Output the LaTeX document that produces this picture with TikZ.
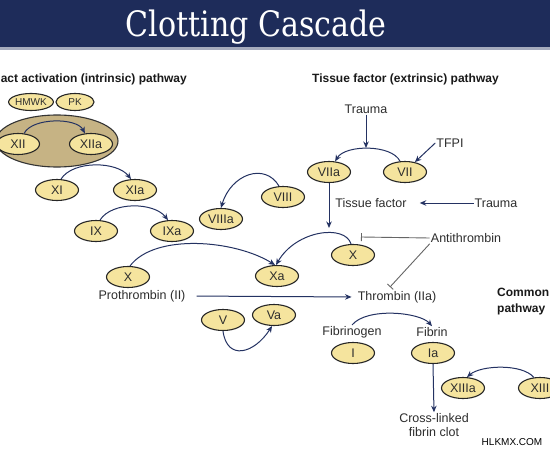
\documentclass[tikz,border=0pt]{standalone}
\usepackage{fontspec}
\setmainfont{Liberation Sans}
\newfontfamily\titlefont{DejaVu Serif}
\usetikzlibrary{shapes.geometric,arrows.meta}
\definecolor{navy}{RGB}{30,44,90}
\definecolor{arrowc}{RGB}{36,50,98}
\definecolor{fac}{RGB}{245,228,158}
\definecolor{bigfill}{RGB}{198,179,132}
\definecolor{txt}{RGB}{45,45,45}
\tikzset{
  fact/.style={ellipse, draw=black!85, line width=1.1pt, fill=fac, minimum width=43pt, minimum height=21pt, inner sep=0pt, font=\fontsize{12.5}{14}\selectfont, text=txt},
  smallfact/.style={fact, minimum width=38pt, minimum height=17pt, font=\fontsize{10}{11}\selectfont},
  lbl/.style={font=\fontsize{12.5}{15}\selectfont, text=txt, inner sep=1pt},
  head/.style={font=\bfseries\fontsize{12}{16}\selectfont, text=black!90, inner sep=0pt},
  arr/.style={draw=arrowc, line width=1pt, -{Stealth[length=6.5pt,width=5.5pt]}},
  inh/.style={draw=black!60, line width=0.9pt, -{Bar[width=8pt]}},
}
\begin{document}
\begin{tikzpicture}[x=1pt,y=-1pt]
\useasboundingbox (0,0) rectangle (550,450);
\clip (0,0) rectangle (550,450);
\fill[white] (0,0) rectangle (550,450);
% title bar
\fill[navy] (0,0) rectangle (550,47);
\fill[navy!40!white] (0,47) rectangle (550,49.5);
\node[font=\titlefont\fontsize{35}{40}\selectfont, text=white, xscale=0.86, anchor=base] (title) at (256,36) {Clotting Cascade};

% headings
\node[head, anchor=east] (intr) at (187,79) {act activation (intrinsic) pathway};
\node[head, anchor=west] (extr) at (312,79) {Tissue factor (extrinsic) pathway};
\node[head, anchor=west, align=left] (common) at (497,302) {Common\\pathway};

% intrinsic
\node[smallfact] (HMWK) at (31,102) {HMWK};
\node[smallfact] (PK) at (75,102) {PK};
\node[ellipse, draw=black!80, line width=1.1pt, fill=bigfill, minimum width=122pt, minimum height=52pt] (cplx) at (57,141) {};
\node[fact] (XII) at (18,144) {XII};
\node[fact] (XIIa) at (91,144) {XIIa};
\node[fact] (XI) at (57,190) {XI};
\node[fact] (XIa) at (135,190) {XIa};
\node[fact] (IX) at (96,231) {IX};
\node[fact] (IXa) at (172,231) {IXa};
\node[fact] (VIIIa) at (221,219) {VIIIa};
\node[fact] (VIII) at (283,197) {VIII};
\node[fact] (Xl) at (128,277) {X};
\node[fact] (Xa) at (277,276) {Xa};

% extrinsic
\node[lbl] (trauma1) at (366,109) {Trauma};
\node[fact] (VIIa) at (329,172) {VIIa};
\node[fact] (VII) at (405,172) {VII};
\node[lbl] (TFPI) at (450,143) {TFPI};
\node[lbl] (tf) at (371,203) {Tissue factor};
\node[lbl] (trauma2) at (496,203) {Trauma};
\node[fact] (Xr) at (353,255) {X};
\node[lbl] (anti) at (466,238) {Antithrombin};

% common
\node[lbl] (proth) at (142,296) {Prothrombin (II)};
\node[lbl] (thromb) at (397,297) {Thrombin (IIa)};
\node[fact] (V) at (223,320) {V};
\node[fact] (Va) at (274,315) {Va};
\node[lbl] (fibgen) at (352,332) {Fibrinogen};
\node[lbl] (fibrin) at (432,332) {Fibrin};
\node[fact] (I) at (353,353) {I};
\node[fact] (Ia) at (433,353) {Ia};
\node[fact] (XIIIa) at (463,388) {XIIIa};
\node[fact] (XIII) at (540,388) {XIII};
\node[lbl, align=center, font=\fontsize{12.5}{14}\selectfont] (cross) at (434,425) {Cross-linked\\fibrin clot};
\node[font=\fontsize{10}{12}\selectfont, text=black] (wm) at (512,442) {HLKMX.COM};

% coordinates for free ends
\coordinate (vtop) at (366,148);
\coordinate (xtop) at (329,228);
\coordinate (bar1) at (361,237);
\coordinate (bar2) at (390,287);

% connectors
\draw[arr] (XII.60) .. controls +(8,-16) and +(-8,-16) .. (XIIa.120);
\draw[arr] (XI.70) .. controls +(12,-19) and +(-14,-18) .. (XIa.110);
\draw[arr] (IX.70) .. controls +(12,-19) and +(-14,-18) .. (IXa.110);
\draw[arr] (VIII.110) .. controls +(-14,-24) and +(10,-34) .. (VIIIa.90);
\draw[arr] (Xl.80) .. controls +(25,-33) and +(-40,-25) .. (Xa.100);
\draw[arr] (Xr.100) .. controls +(-6,-20) and +(20,-35) .. (Xa.95);
\draw[arr] (VII.115) .. controls +(-8,-17) and +(10,-17) .. (VIIa.60);
\draw[arr] (trauma1.south) -- (vtop);
\draw[arr] (TFPI.west) -- (VII.45);
\draw[arr] (VIIa.south) -- (xtop);
\draw[arr, shorten >=12pt] (trauma2.west) -- (tf.east);
\draw[inh] (anti.west) -- (bar1);
\draw[inh] (anti.south west) -- (bar2);
\draw[arr, shorten <=10pt, shorten >=5pt] (proth.east) -- (thromb.west);
\draw[arr] (V.south) .. controls +(4,30) and +(-18,28) .. (Va.260);
\draw[arr] (fibgen.north) .. controls +(15,-18) and +(-12,-14) .. (fibrin.north);
\draw[arr] (Ia.south) -- (cross.north);
\draw[arr] (XIII.120) .. controls +(-12,-14) and +(14,-12) .. (XIIIa.70);
\end{tikzpicture}
\end{document}
